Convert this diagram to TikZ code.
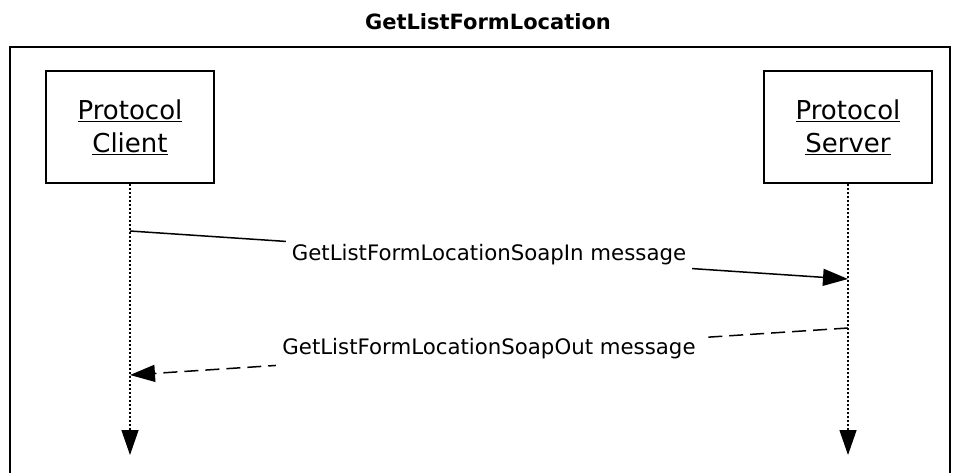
\documentclass[tikz,border=0pt]{standalone}
\usepackage{fontspec}
\setmainfont{DejaVu Sans}
\usetikzlibrary{arrows.meta}
\begin{document}
\begin{tikzpicture}[x=1pt,y=-1pt,
  actor/.style={draw,line width=1.6pt,minimum width=168pt,minimum height=112pt,align=center,font=\fontsize{26}{33}\selectfont,inner sep=0pt},
  life/.style={line width=1.3pt,dash pattern=on 2pt off 2pt,-{Triangle[length=25pt,width=17pt]}},
  msg/.style={line width=1.5pt,-{Triangle[length=25pt,width=17pt]}},
  lbl/.style={fill=white,font=\fontsize{21.3}{25}\selectfont,inner xsep=6pt,inner ysep=9pt}]
\useasboundingbox (0,0) rectangle (955,472);
\fill[white] (0,0) rectangle (955,472);
\clip (0,0) rectangle (955,472);
\node[font=\bfseries\fontsize{21}{25}\selectfont] (title) at (488,22) {GetListFormLocation};
\draw[line width=1.8pt] (10,500) -- (10,47) -- (950,47) -- (950,500);
\node[actor] (client) at (130,127) {\underline{Protocol}\\\underline{Client}};
\node[actor] (server) at (848,127) {\underline{Protocol}\\\underline{Server}};
\coordinate (cend) at (130,455);
\coordinate (send) at (848,455);
\draw[life] (client.south) -- (cend);
\draw[life] (server.south) -- (send);
\coordinate (m1s) at (130,231);
\coordinate (m1e) at (848,279);
\coordinate (m2s) at (848,328);
\coordinate (m2e) at (130,375);
\draw[msg] (m1s) -- node[lbl] (l1) {GetListFormLocationSoapIn message} (m1e);
\draw[msg,dash pattern=on 14pt off 7pt] (m2s) -- node[lbl,yshift=3pt] (l2) {GetListFormLocationSoapOut message} (m2e);
\end{tikzpicture}
\end{document}
